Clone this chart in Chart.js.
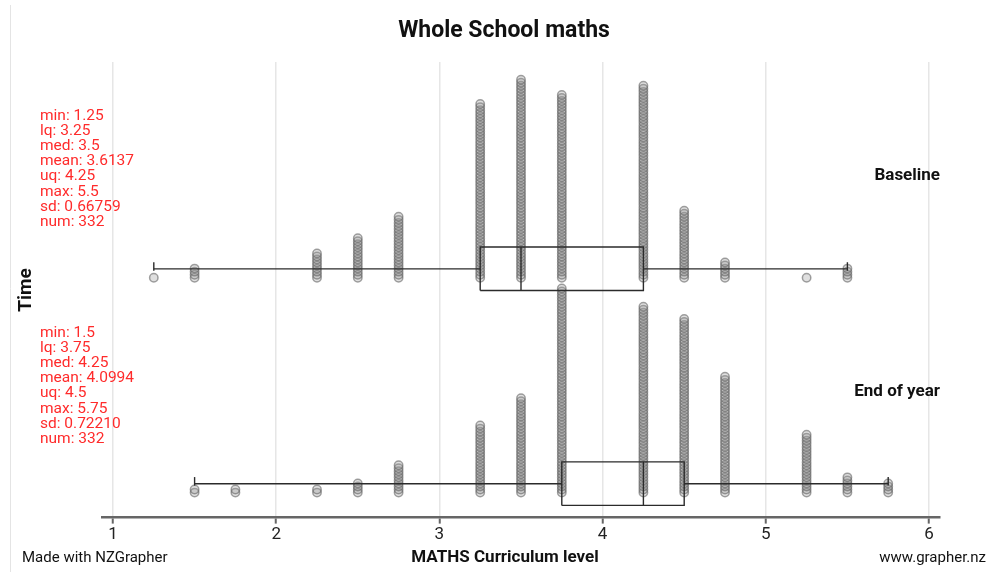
<!DOCTYPE html>
<html>
<head>
<meta charset="utf-8">
<script src="https://cdn.jsdelivr.net/npm/chart.js@4.4.1/dist/chart.umd.min.js"></script>
<style>
  html, body { margin: 0; padding: 0; background: #fff; }
  #wrap { width: 990px; height: 572px; position: relative; }
</style>
</head>
<body>
<div id="wrap"><canvas id="chart"></canvas></div>
<script>
// Dot plot + box plot of maths curriculum levels, baseline vs end of year.
// Each dot is one student; dots at the same level are stacked upwards.

const X_TICKS = [1, 2, 3, 4, 5, 6];

const LEVELS_BASELINE = [1.25, 1.5, 2.25, 2.5, 2.75, 3.25, 3.5, 3.75, 4.25, 4.5, 4.75, 5.25, 5.5];
const COUNTS_BASELINE = [1, 4, 9, 14, 21, 58, 66, 61, 64, 23, 6, 1, 4];
const BOX_BASELINE = [1.25, 3.25, 3.5, 4.25, 5.5]; // min, lq, med, uq, max
const STATS_BASELINE = ["min: 1.25", "lq: 3.25", "med: 3.5", "mean: 3.6137", "uq: 4.25", "max: 5.5", "sd: 0.66759", "num: 332"];

const LEVELS_EOY = [1.5, 1.75, 2.25, 2.5, 2.75, 3.25, 3.5, 3.75, 4.25, 4.5, 4.75, 5.25, 5.5, 5.75];
const COUNTS_EOY = [2, 2, 2, 4, 10, 23, 32, 68, 62, 58, 39, 20, 6, 4];
const BOX_EOY = [1.5, 3.75, 4.25, 4.5, 5.75];
const STATS_EOY = ["min: 1.5", "lq: 3.75", "med: 4.25", "mean: 4.0994", "uq: 4.5", "max: 5.75", "sd: 0.72210", "num: 332"];

// y axis is measured in "dot steps"; each panel sits on its own base line
const Y_MAX = 149.5;
const PANEL_BASE = [78.7, 8.2];
const BOX_TOP = 10.1, BOX_BOTTOM = -4.2, WHISKER = 2.9;

const FONT = "Roboto, 'Noto Sans', sans-serif";
const DOT_EDGE = "rgba(100,100,100,0.6)";
const DOT_FILL = "rgba(150,150,150,0.3)";
const BOX_EDGE = "#2b2b2b";

function dots(levels, counts, base) {
  const pts = [];
  levels.forEach((v, i) => {
    for (let k = 0; k < counts[i]; k++) pts.push({ x: v, y: base + k });
  });
  return pts;
}

function line(data) {
  return {
    type: "line", data, showLine: true, fill: false, clip: false,
    borderColor: BOX_EDGE, borderWidth: 1.4, pointRadius: 0, tension: 0,
  };
}

function boxSets(b, base) {
  const [mn, lq, med, uq, mx] = b;
  const top = base + BOX_TOP, bot = base + BOX_BOTTOM, w = base + WHISKER;
  return [
    line([{ x: lq, y: bot }, { x: lq, y: top }, { x: uq, y: top }, { x: uq, y: bot }, { x: lq, y: bot }]),
    line([{ x: med, y: bot }, { x: med, y: top }]),
    line([{ x: mn, y: w }, { x: lq, y: w }]),
    line([{ x: uq, y: w }, { x: mx, y: w }]),
    line([{ x: mn, y: w - 0.6 }, { x: mn, y: w + 2.2 }]),
    line([{ x: mx, y: w - 0.6 }, { x: mx, y: w + 2.2 }]),
  ];
}

function dotSet(pts) {
  return {
    type: "scatter", data: pts, clip: false,
    pointRadius: 4.2, pointBorderWidth: 1.5,
    pointBorderColor: DOT_EDGE, pointBackgroundColor: DOT_FILL,
    pointHoverRadius: 4.2,
  };
}

// text that NZGrapher places around the plot
const labels = {
  id: "labels",
  afterDraw(chart) {
    const c = chart.ctx;
    c.save();
    c.strokeStyle = "#e4e4e4"; c.lineWidth = 1;
    c.beginPath(); c.moveTo(10.5, 5); c.lineTo(10.5, 572); c.stroke();

    c.fillStyle = "#111"; c.textBaseline = "middle";
    c.textAlign = "center";
    c.font = `bold 23px ${FONT}`;
    c.fillText("Whole School maths", 504, 31);
    c.font = `bold 17px ${FONT}`;
    c.fillText("MATHS Curriculum level", 505, 558);

    c.textAlign = "right";
    c.font = `bold 17px ${FONT}`;
    c.fillText("Baseline", 940, 176);
    c.fillText("End of year", 940, 392);
    c.font = `15px ${FONT}`;
    c.fillText("www.grapher.nz", 986, 558);

    c.textAlign = "left";
    c.fillText("Made with NZGrapher", 22, 558);

    c.fillStyle = "#ff2b2b";
    c.font = `15.5px ${FONT}`;
    STATS_BASELINE.forEach((t, i) => c.fillText(t, 40, 116 + i * 15.15));
    STATS_EOY.forEach((t, i) => c.fillText(t, 40, 333 + i * 15.15));

    c.fillStyle = "#111";
    c.font = `bold 19px ${FONT}`;
    c.translate(26, 290); c.rotate(-Math.PI / 2);
    c.textAlign = "center";
    c.fillText("Time", 0, 0);
    c.restore();
  },
};

const datasets = [
  ...boxSets(BOX_BASELINE, PANEL_BASE[0]),
  ...boxSets(BOX_EOY, PANEL_BASE[1]),
  dotSet(dots(LEVELS_BASELINE, COUNTS_BASELINE, PANEL_BASE[0])),
  dotSet(dots(LEVELS_EOY, COUNTS_EOY, PANEL_BASE[1])),
];

new Chart(document.getElementById("chart"), {
  type: "scatter",
  data: { datasets },
  options: {
    responsive: true,
    maintainAspectRatio: false,
    animation: false,
    layout: { padding: { top: 62, left: 102, right: 50, bottom: 26 } },
    scales: {
      x: {
        type: "linear", min: 0.9326, max: 6.0674,
        afterBuildTicks: (s) => { s.ticks = X_TICKS.map((v) => ({ value: v })); },
        grid: { color: "#e6e6e6", lineWidth: 1.5, tickLength: 6, tickColor: "#666", tickWidth: 2 },
        border: { display: true, color: "#666", width: 2.5 },
        ticks: { padding: 1, color: "#222", font: { family: FONT, size: 17 } },
      },
      y: { type: "linear", min: 0, max: Y_MAX, display: false },
    },
    plugins: { legend: { display: false }, tooltip: { enabled: false }, title: { display: false } },
  },
  plugins: [labels],
});
</script>
</body>
</html>
